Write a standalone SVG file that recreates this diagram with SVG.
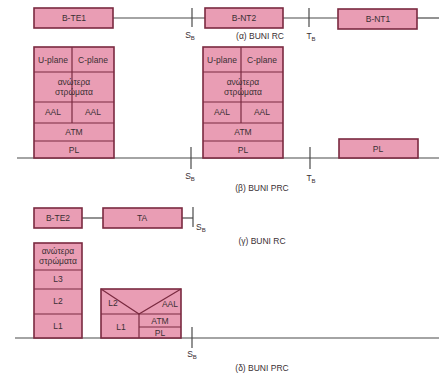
<svg xmlns="http://www.w3.org/2000/svg" width="439" height="375" viewBox="0 0 439 375">
<style>
.bx{fill:#e99db4;stroke:#7a2a40;stroke-width:1.6}
.dv{fill:none;stroke:#7a2a40;stroke-width:1.2}
.ln{fill:none;stroke:#4a4a4a;stroke-width:1.2}
.tk{fill:none;stroke:#4a4a4a;stroke-width:1.2}
text{font-family:"Liberation Sans","DejaVu Sans",sans-serif;font-size:8.5px;fill:#3a2f33;text-anchor:middle}
.lb{text-anchor:start}
.sub{font-size:6px}
</style>
<rect width="439" height="375" fill="#ffffff"/>
<g id="connectors">
<line class="ln" x1="113" y1="18" x2="205" y2="18"/>
<line class="ln" x1="283" y1="18" x2="338" y2="18"/>
<line class="ln" x1="417" y1="18" x2="439" y2="18"/>
<line class="tk" x1="192" y1="8" x2="192" y2="27"/>
<line class="tk" x1="309" y1="8" x2="309" y2="27"/>
<line class="ln" x1="17" y1="158" x2="439" y2="158"/>
<line class="tk" x1="191" y1="147" x2="191" y2="169"/>
<line class="tk" x1="310" y1="147" x2="310" y2="169"/>
<line class="ln" x1="82" y1="218" x2="103" y2="218"/>
<line class="ln" x1="182" y1="218" x2="193" y2="218"/>
<line class="tk" x1="193" y1="207" x2="193" y2="227"/>
<line class="ln" x1="15" y1="338" x2="439" y2="338"/>
<line class="tk" x1="192" y1="327" x2="192" y2="348"/>
</g>
<g id="labels">
<text x="190" y="38">S<tspan class="sub" dy="2">B</tspan></text>
<text x="311" y="39">T<tspan class="sub" dy="2">B</tspan></text>
<text x="260" y="39">(α) BUNI RC</text>
<text x="190" y="179">S<tspan class="sub" dy="2">B</tspan></text>
<text x="311" y="181">T<tspan class="sub" dy="2">B</tspan></text>
<text x="262" y="191">(β) BUNI PRC</text>
<text class="lb" x="196" y="230">S<tspan class="sub" dy="2">B</tspan></text>
<text x="262" y="244">(γ) BUNI RC</text>
<text x="192" y="357">S<tspan class="sub" dy="2">B</tspan></text>
<text x="262" y="371">(δ) BUNI PRC</text>
</g>
<g id="b-te1"><rect class="bx" x="34" y="8" width="79" height="20"/><text x="74" y="21">B-TE1</text></g>
<g id="b-nt2"><rect class="bx" x="205" y="8" width="78" height="20"/><text x="244" y="21">B-NT2</text></g>
<g id="b-nt1"><rect class="bx" x="338" y="9" width="79" height="20"/><text x="378" y="22">B-NT1</text></g>
<g id="stack1">
<rect class="bx" x="34" y="47" width="80" height="111"/>
<line class="dv" x1="34" y1="72" x2="114" y2="72"/>
<line class="dv" x1="34" y1="102" x2="114" y2="102"/>
<line class="dv" x1="34" y1="123" x2="114" y2="123"/>
<line class="dv" x1="34" y1="141" x2="114" y2="141"/>
<line class="dv" x1="72" y1="47" x2="72" y2="123"/>
<text x="53" y="63">U-plane</text><text x="93" y="63">C-plane</text>
<text x="74" y="85">ανώτερα</text><text x="74" y="95">στρώματα</text>
<text x="53" y="115">AAL</text><text x="93" y="115">AAL</text>
<text x="74" y="135">ATM</text><text x="74" y="153">PL</text>
</g>
<g id="stack2">
<rect class="bx" x="203" y="47" width="80" height="111"/>
<line class="dv" x1="203" y1="72" x2="283" y2="72"/>
<line class="dv" x1="203" y1="102" x2="283" y2="102"/>
<line class="dv" x1="203" y1="123" x2="283" y2="123"/>
<line class="dv" x1="203" y1="141" x2="283" y2="141"/>
<line class="dv" x1="241" y1="47" x2="241" y2="123"/>
<text x="222" y="63">U-plane</text><text x="262" y="63">C-plane</text>
<text x="243" y="85">ανώτερα</text><text x="243" y="95">στρώματα</text>
<text x="222" y="115">AAL</text><text x="262" y="115">AAL</text>
<text x="243" y="135">ATM</text><text x="243" y="153">PL</text>
</g>
<g id="pl-box"><rect class="bx" x="339" y="139" width="79" height="19"/><text x="378" y="152">PL</text></g>
<g id="b-te2"><rect class="bx" x="34" y="208" width="48" height="20"/><text x="58" y="221">B-TE2</text></g>
<g id="ta"><rect class="bx" x="103" y="208" width="79" height="20"/><text x="142" y="221">TA</text></g>
<g id="stack3">
<rect class="bx" x="34" y="243" width="48" height="95"/>
<line class="dv" x1="34" y1="270" x2="82" y2="270"/>
<line class="dv" x1="34" y1="289" x2="82" y2="289"/>
<line class="dv" x1="34" y1="314" x2="82" y2="314"/>
<text x="58" y="254">ανώτερα</text><text x="58" y="264">στρώματα</text>
<text x="58" y="282">L3</text><text x="58" y="304">L2</text><text x="58" y="329">L1</text>
</g>
<g id="stack4">
<rect class="bx" x="101" y="289" width="80" height="49"/>
<polyline class="dv" points="101,289 139,314 181,289"/>
<line class="dv" x1="101" y1="314" x2="181" y2="314"/>
<line class="dv" x1="139" y1="314" x2="139" y2="338"/>
<line class="dv" x1="139" y1="327" x2="181" y2="327"/>
<text x="113" y="306">L2</text><text x="170" y="307">AAL</text>
<text x="121" y="330">L1</text><text x="160" y="324">ATM</text><text x="160" y="336">PL</text>
</g>
</svg>
